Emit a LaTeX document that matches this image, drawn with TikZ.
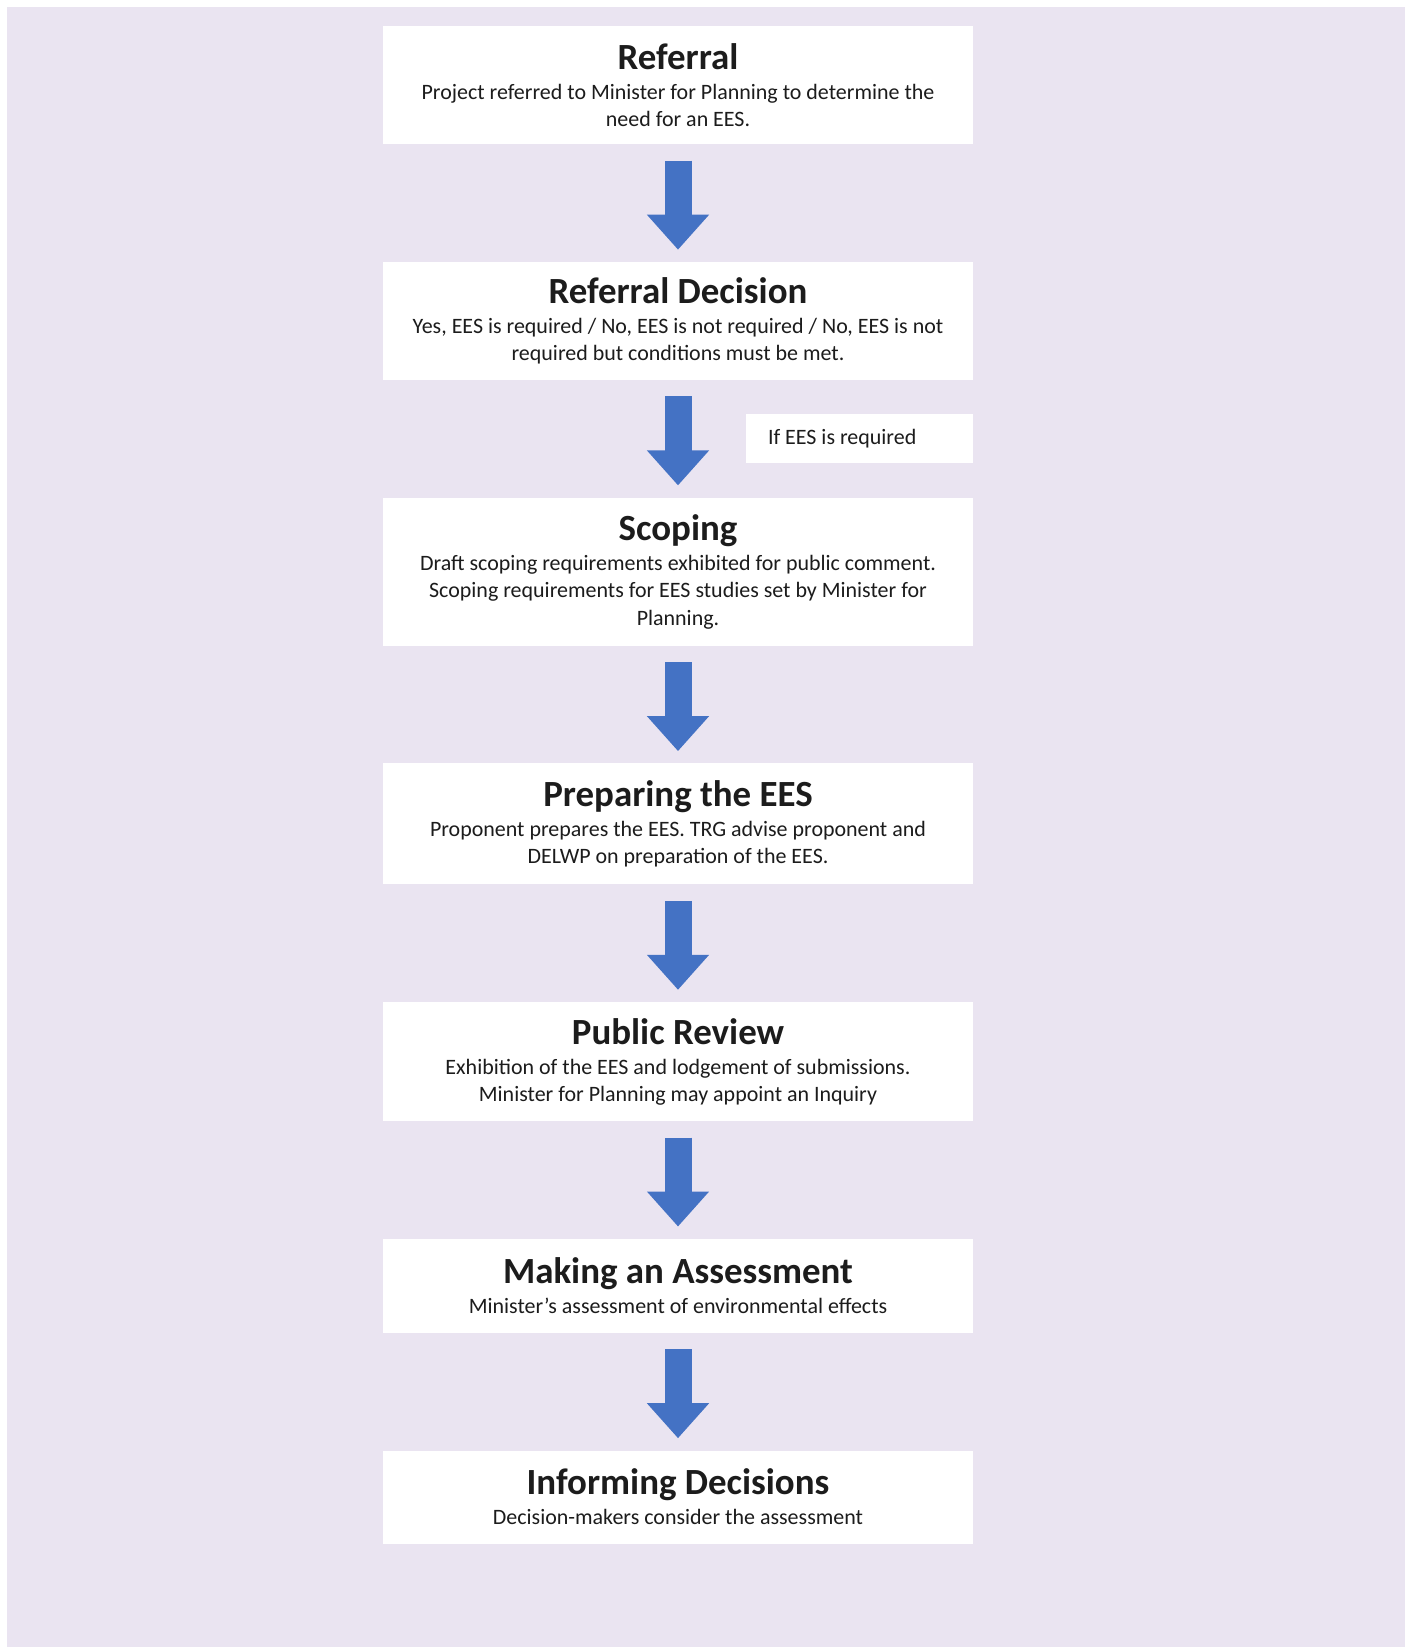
\documentclass[tikz,border=0pt]{standalone}
\usepackage{fontspec}
\setmainfont{Carlito}
\usetikzlibrary{positioning,arrows.meta}
\definecolor{bgpurple}{RGB}{234,228,241}
\definecolor{arrowblue}{RGB}{68,114,196}
\definecolor{inktext}{RGB}{28,28,28}
\newcommand{\stagetitle}[1]{{\fontsize{21}{24}\selectfont\bfseries #1}}

\begin{document}
\begin{tikzpicture}[
  stage/.style={fill=white, text=inktext, align=center, minimum width=11.8cm, inner sep=0pt,
    font=\fontsize{12.5}{15.6}\selectfont},
  note/.style={fill=white, text=inktext, text width=3.66cm, inner xsep=0.44cm, align=flush left,
    minimum height=0.98cm, font=\fontsize{12.5}{15.6}\selectfont},
  flowarrow/.style={draw=arrowblue, line width=0.54cm,
    -{Triangle[width=1.2cm,length=0.7cm]}, shorten <=0.32cm, shorten >=0.24cm},
  node distance=2.34cm
]
\useasboundingbox (0,0) rectangle (28.1,-32.94);
\fill[white] (0,0) rectangle (28.1,-32.94);
\fill[bgpurple] (0.14,-0.14) rectangle (28.1,-32.94);

% stages
\node[stage, minimum height=2.36cm, anchor=north] (ref) at (13.56,-0.52)
  {\stagetitle{Referral}\\[1.5pt]
   Project referred to Minister for Planning to determine the\\
   need for an EES.};
\node[stage, minimum height=2.36cm, below=of ref] (dec)
  {\stagetitle{Referral Decision}\\[1.5pt]
   Yes, EES is required / No, EES is not required / No, EES is not\\
   required but conditions must be met.};
\node[stage, minimum height=2.96cm, below=of dec] (scope)
  {\stagetitle{Scoping}\\[1.5pt]
   Draft scoping requirements exhibited for public comment.\\
   Scoping requirements for EES studies set by Minister for\\
   Planning.};
\node[stage, minimum height=2.42cm, below=of scope] (prep)
  {\stagetitle{Preparing the EES}\\[1.5pt]
   Proponent prepares the EES. TRG advise proponent and\\
   DELWP on preparation of the EES.};
\node[stage, minimum height=2.38cm, below=of prep] (review)
  {\stagetitle{Public Review}\\[1.5pt]
   Exhibition of the EES and lodgement of submissions.\\
   Minister for Planning may appoint an Inquiry};
\node[stage, minimum height=1.88cm, below=of review] (assess)
  {\stagetitle{Making an Assessment}\\[1.5pt]
   Minister’s assessment of environmental effects};
\node[stage, minimum height=1.86cm, below=of assess] (inform)
  {\stagetitle{Informing Decisions}\\[1.5pt]
   Decision-makers consider the assessment};

\node[note, anchor=north east] (cond) at ([yshift=-0.66cm]dec.south east) {If EES is required};

% arrows
\draw[flowarrow] (ref) -- (dec);
\draw[flowarrow] (dec) -- (scope);
\draw[flowarrow] (scope) -- (prep);
\draw[flowarrow] (prep) -- (review);
\draw[flowarrow] (review) -- (assess);
\draw[flowarrow] (assess) -- (inform);
\end{tikzpicture}
\end{document}
